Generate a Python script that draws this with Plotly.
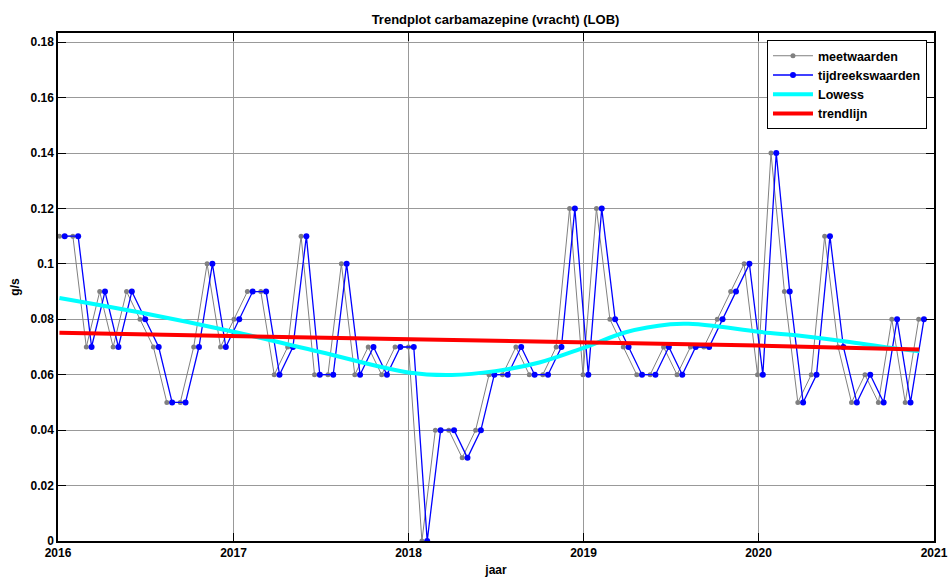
import pandas as pd
import plotly.graph_objects as go

# ---- data ----
first_series_date = "2016-01-15"   # first tijdreeks date (4-weekly series)
step_days = 28
meas_offset_days = 11              # measurement dates lie ~11 days before series dates

values = [0.11, 0.11, 0.07, 0.09, 0.07, 0.09, 0.08, 0.07, 0.05, 0.05,
          0.07, 0.10, 0.07, 0.08, 0.09, 0.09, 0.06, 0.07, 0.11, 0.06,
          0.06, 0.10, 0.06, 0.07, 0.06, 0.07, 0.07, 0.00, 0.04, 0.04,
          0.03, 0.04, 0.06, 0.06, 0.07, 0.06, 0.06, 0.07, 0.12, 0.06,
          0.12, 0.08, 0.07, 0.06, 0.06, 0.07, 0.06, 0.07, 0.07, 0.08,
          0.09, 0.10, 0.06, 0.14, 0.09, 0.05, 0.06, 0.11, 0.07, 0.05,
          0.06, 0.05, 0.08, 0.05, 0.08]

lowess_dates = ["2016-01-04", "2016-07-01", "2017-01-01", "2017-07-01", "2018-01-01",
                "2018-04-01", "2018-07-01", "2018-10-01", "2019-01-01", "2019-04-01",
                "2019-07-01", "2019-08-08", "2019-10-01", "2020-01-01", "2020-04-01",
                "2020-07-01", "2020-10-01", "2020-12-01"]
lowess_values = [0.0877, 0.0821, 0.0755, 0.0682, 0.0608,
                 0.0599, 0.0613, 0.0644, 0.0697, 0.0754,
                 0.0782, 0.0784, 0.0776, 0.0755, 0.0740,
                 0.0720, 0.0697, 0.0685]

trend_dates = ["2016-01-04", "2017-01-01", "2018-01-01", "2019-01-01", "2020-01-01", "2020-12-01"]
trend_values = [0.0751, 0.0740, 0.0726, 0.0716, 0.0705, 0.0691]

y_tickvals = [0, 0.02, 0.04, 0.06, 0.08, 0.10, 0.12, 0.14, 0.16, 0.18]
y_ticktext = ["0", "0.02", "0.04", "0.06", "0.08", "0.1", "0.12", "0.14", "0.16", "0.18"]
x_tickvals = ["2016-01-01", "2017-01-01", "2018-01-01", "2019-01-01", "2020-01-01", "2021-01-01"]
x_ticktext = ["2016", "2017", "2018", "2019", "2020", "2021"]

series_dates = pd.date_range(first_series_date, periods=len(values), freq=f"{step_days}D")
meas_dates = series_dates - pd.Timedelta(days=meas_offset_days)

FONT = "Liberation Sans, Arial, sans-serif"

fig = go.Figure()
fig.add_trace(go.Scatter(x=meas_dates, y=values, name="meetwaarden", mode="lines+markers",
                         line=dict(color="#808080", width=1),
                         marker=dict(color="#808080", size=5)))
fig.add_trace(go.Scatter(x=series_dates, y=values, name="tijdreekswaarden", mode="lines+markers",
                         line=dict(color="#0000ff", width=1.3),
                         marker=dict(color="#0000ff", size=6)))
fig.add_trace(go.Scatter(x=pd.to_datetime(lowess_dates), y=lowess_values, name="Lowess",
                         mode="lines", line=dict(color="#00ffff", width=4, shape="spline")))
fig.add_trace(go.Scatter(x=pd.to_datetime(trend_dates), y=trend_values, name="trendlijn",
                         mode="lines", line=dict(color="#ff0000", width=4)))

fig.update_layout(
    width=950, height=578,
    margin=dict(l=58, r=16, t=33, b=37, autoexpand=False),
    paper_bgcolor="white", plot_bgcolor="white",
    font=dict(family=FONT, size=12, color="black", weight="bold"),
    title=dict(text="Trendplot carbamazepine (vracht) (LOB)", x=0.5216, xanchor="center",
               xref="container", yref="container",
               y=1 - 19 / 578, yanchor="middle", automargin=False,
               font=dict(family=FONT, size=13, color="black", weight="bold")),
    showlegend=True,
    legend=dict(x=0.992, xanchor="right", y=0.986, yanchor="top",
                bordercolor="black", borderwidth=1, bgcolor="white",
                font=dict(family=FONT, size=12.5, color="black", weight="bold"),
                itemwidth=40, tracegroupgap=0),
)
fig.update_xaxes(
    type="date", range=["2016-01-01", "2021-01-01"], automargin=False,
    tickvals=x_tickvals, ticktext=x_ticktext,
    ticks="inside", ticklen=8, tickcolor="black", tickwidth=1,
    showline=True, linecolor="black", linewidth=1.5, mirror="ticks",
    showgrid=True, gridcolor="#999999", gridwidth=1, zeroline=False,
    tickfont=dict(family=FONT, size=12, color="black", weight="bold"),
    title=dict(text="jaar", standoff=6, font=dict(family=FONT, size=12, weight="bold")),
)
fig.update_yaxes(
    range=[0, 0.1833], automargin=False,
    tickvals=y_tickvals, ticktext=y_ticktext, ticklabelstandoff=0,
    ticks="inside", ticklen=8, tickcolor="black", tickwidth=1,
    showline=True, linecolor="black", linewidth=1.5, mirror="ticks",
    showgrid=True, gridcolor="#999999", gridwidth=1, zeroline=False,
    tickfont=dict(family=FONT, size=12, color="black", weight="bold"),
    title=dict(text="g/s", standoff=8, font=dict(family=FONT, size=12, weight="bold")),
)

# remove the default page margin so the figure fills the 950x578 window exactly
fig.write_html("out.html",
               config={"displayModeBar": False},
               post_script="document.body.style.margin='0';"
                           "document.documentElement.style.overflow='hidden';")
